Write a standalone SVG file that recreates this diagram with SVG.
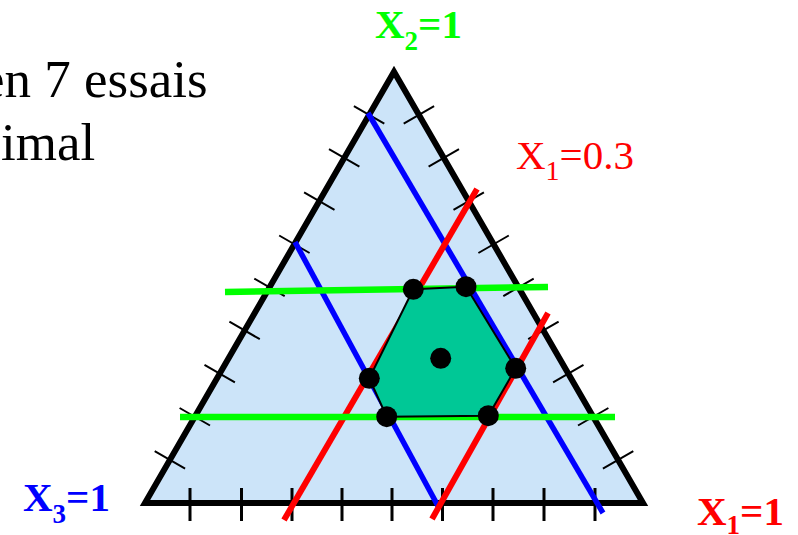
<svg xmlns="http://www.w3.org/2000/svg" width="798" height="535" viewBox="0 0 798 535">
<style>
.serif{font-family:"Liberation Serif","Times New Roman",serif}
.lbl{font-family:"Liberation Serif","Times New Roman",serif;font-size:41px}
.b{font-weight:bold}
.tick{stroke:#000;stroke-width:2;fill:none}
.btick{stroke:#000;stroke-width:3;fill:none}
.ln{fill:none;stroke-linecap:butt}
.dot{fill:#000}
</style>
<rect width="798" height="535" fill="#fff"/>
<g id="title">
<text class="serif" x="-19" y="97" font-size="53" fill="#000">en 7 essais</text>
<text class="serif" x="1" y="160" font-size="53" fill="#000">imal</text>
</g>
<g id="triangle">
<polygon points="145,503 643,503 394,71.7" fill="#cce4f9" stroke="#000" stroke-width="6" stroke-linejoin="miter"/>
<path class="tick" d="M154.7,451.1L185.1,468.6M179.6,408L210,425.5M204.5,364.9L234.9,382.4M229.4,321.7L259.8,339.2M254.3,278.6L284.7,296.1M279.2,235.5L309.6,253M304.1,192.3L334.5,209.8M329,149.2L359.4,166.7M353.9,106.1L384.3,123.6"/>
<path class="tick" d="M602.9,468.6L633.3,451.1M578,425.5L608.4,408M553.1,382.4L583.5,364.9M528.2,339.2L558.6,321.7M503.3,296.1L533.7,278.6M478.4,253L508.8,235.5M453.5,209.8L483.9,192.3M428.6,166.7L459,149.2M403.7,123.6L434.1,106.1"/>
<path class="btick" d="M190,488V521M241.5,488V521M292,488V521M342,488V521M392,488V521M442.5,488V521M493,488V521M544,488V521M595,488V521"/>
</g>
<g id="connectors">
<line class="ln" x1="368" y1="113" x2="603" y2="513" stroke="#0000ff" stroke-width="5.5"/>
<line class="ln" x1="295" y1="242" x2="438" y2="506" stroke="#0000ff" stroke-width="5.5"/>
<line class="ln" x1="477" y1="189" x2="284" y2="520" stroke="#ff0000" stroke-width="6"/>
<line class="ln" x1="548" y1="313" x2="432" y2="519" stroke="#ff0000" stroke-width="6"/>
<line class="ln" x1="225" y1="292" x2="548" y2="287" stroke="#00ff00" stroke-width="6.5"/>
<line class="ln" x1="180" y1="417" x2="615" y2="417" stroke="#00ff00" stroke-width="6.5"/>
</g>
<g id="region">
<polygon points="413.3,289.3 466,286.7 515.7,368.3 488.3,415.7 386.7,416.7 369.3,378.3" fill="#00c896" stroke="#000" stroke-width="2"/>
</g>
<g id="points">
<circle class="dot" cx="413.3" cy="289.3" r="10.5"/>
<circle class="dot" cx="466" cy="286.7" r="10.5"/>
<circle class="dot" cx="515.7" cy="368.3" r="10.5"/>
<circle class="dot" cx="488.3" cy="415.7" r="10.5"/>
<circle class="dot" cx="386.7" cy="416.7" r="10.5"/>
<circle class="dot" cx="369.3" cy="378.3" r="10.5"/>
<circle class="dot" cx="440.7" cy="358.3" r="10.5"/>
</g>
<g id="labels">
<text class="lbl b" x="375" y="38" fill="#00ff00">X<tspan font-size="27" dy="12">2</tspan><tspan dy="-12">=1</tspan></text>
<text class="lbl" x="516" y="169" font-size="42" fill="#ff0000">X<tspan font-size="28" dy="11">1</tspan><tspan dy="-11">=0.3</tspan></text>
<text class="lbl b" x="23" y="511" fill="#0000ff">X<tspan font-size="27" dy="12">3</tspan><tspan dy="-12">=1</tspan></text>
<text class="lbl b" x="697" y="525" fill="#ff0000">X<tspan font-size="27" dy="9">1</tspan><tspan dy="-9">=1</tspan></text>
</g>
</svg>
